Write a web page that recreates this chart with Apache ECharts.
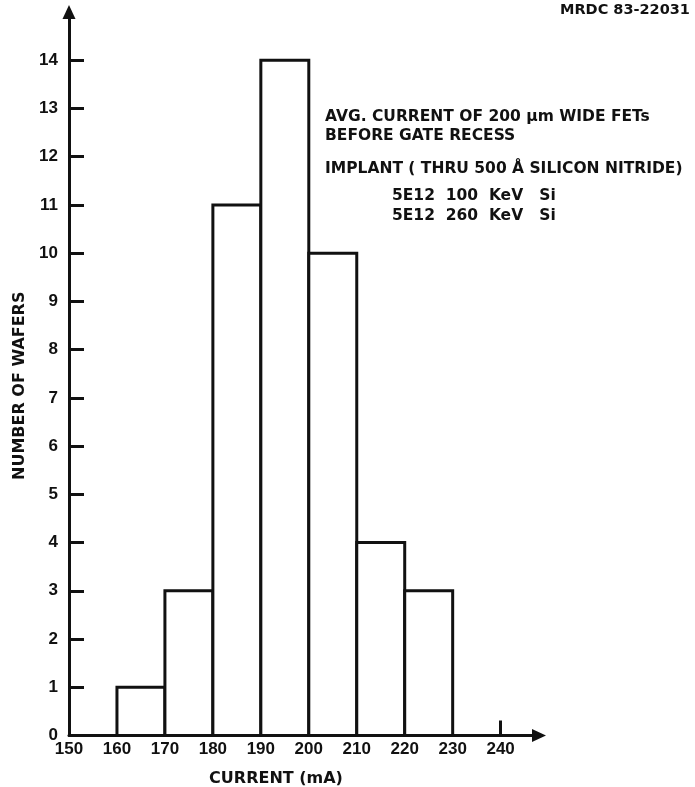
<!DOCTYPE html>
<html>
<head>
<meta charset="utf-8">
<script src="https://cdn.jsdelivr.net/npm/echarts@6/dist/echarts.min.js"></script>
<style>html,body{margin:0;padding:0;background:#fff;}#chart{width:695px;height:787px;}</style>
</head>
<body>
<div id="chart"></div>
<script>
// Histogram bins (current, mA) and counts (number of wafers)
const binStart = [160, 170, 180, 190, 200, 210, 220];
const binEnd   = [170, 180, 190, 200, 210, 220, 230];
const wafers   = [1, 3, 11, 14, 10, 4, 3];
// Tick labels
const xTickLabels = [150, 160, 170, 180, 190, 200, 210, 220, 230, 240];
const yTickLabels = [0, 1, 2, 3, 4, 5, 6, 7, 8, 9, 10, 11, 12, 13, 14];
const yTickMarks  = [1, 2, 3, 4, 5, 6, 7, 8, 9, 10, 11, 12, 13, 14];
const xTickMarks  = [240];
// Texts
const codeText = 'MRDC 83-22031';
const noteLines = [
  'AVG. CURRENT OF 200 \u00b5m WIDE FETs',
  'BEFORE GATE RECESS',
  'IMPLANT ( THRU 500 \u00c5 SILICON NITRIDE)',
  '5E12  100  KeV   Si',
  '5E12  260  KeV   Si'
];

const INK = '#111';
const LABEL_FONT = 'Liberation Sans';
const TEXT_FONT = 'DejaVu Sans';

const histData = binStart.map((s, i) => [s, binEnd[i], wafers[i]]);

const chart = echarts.init(document.getElementById('chart'), null, {renderer: 'canvas'});

const noteX = [325, 325, 325, 392, 392];
const noteY = [117, 136, 169, 196, 216];

const graphics = [{
  type: 'text', left: 560, top: 3,
  style: {text: codeText, fill: INK, font: 'bold 14.5px "' + TEXT_FONT + '"'}
}];
noteLines.forEach((t, i) => {
  graphics.push({
    type: 'text', x: noteX[i], y: noteY[i],
    style: {text: t, fill: INK, font: 'bold 15.5px "' + TEXT_FONT + '"', verticalAlign: 'middle', align: 'left'}
  });
});

chart.setOption({
  animation: false,
  backgroundColor: '#fff',
  grid: {left: 69, top: 12, width: 470, height: 723.5, containLabel: false, outerBoundsMode: 'none'},
  xAxis: {
    type: 'value', min: 150, max: 248, interval: 10,
    name: 'CURRENT (mA)', nameLocation: 'middle', nameGap: 35,
    nameTextStyle: {color: INK, fontFamily: TEXT_FONT, fontWeight: 'bold', fontSize: 16, padding: [0, 56, 0, 0]},
    axisLine: {show: true, lineStyle: {color: INK, width: 3}, symbol: ['none', 'triangle'], symbolSize: [13, 14]},
    axisTick: {show: true, inside: true, length: 15, lineStyle: {color: INK, width: 3}, customValues: xTickMarks},
    axisLabel: {
      color: INK, fontFamily: LABEL_FONT, fontWeight: 'bold', fontSize: 17, margin: 5,
      customValues: xTickLabels,
      formatter: v => (xTickLabels.indexOf(v) >= 0 ? String(v) : '')
    },
    splitLine: {show: false}
  },
  yAxis: {
    type: 'value', min: 0, max: 15, interval: 1,
    name: 'NUMBER OF WAFERS', nameLocation: 'middle', nameGap: 37,
    nameTextStyle: {color: INK, fontFamily: TEXT_FONT, fontWeight: 'bold', fontSize: 16, padding: [0, 24, 0, 0]},
    axisLine: {show: true, lineStyle: {color: INK, width: 3}, symbol: ['none', 'triangle'], symbolSize: [13, 14]},
    axisTick: {show: true, inside: true, length: 15, lineStyle: {color: INK, width: 3}, customValues: yTickMarks},
    axisLabel: {
      color: INK, fontFamily: LABEL_FONT, fontWeight: 'bold', fontSize: 17, margin: 11,
      customValues: yTickLabels,
      formatter: v => (yTickLabels.indexOf(v) >= 0 ? String(v) : '')
    },
    splitLine: {show: false}
  },
  series: [{
    type: 'custom',
    data: histData,
    encode: {x: [0, 1], y: 2},
    renderItem: function (params, api) {
      const p0 = api.coord([api.value(0), 0]);
      const p1 = api.coord([api.value(1), api.value(2)]);
      return {
        type: 'rect',
        shape: {x: p0[0], y: p1[1], width: p1[0] - p0[0], height: p0[1] - p1[1]},
        style: {fill: '#fff', stroke: INK, lineWidth: 3}
      };
    },
    z: 1
  }],
  graphic: graphics
});
</script>
</body>
</html>
